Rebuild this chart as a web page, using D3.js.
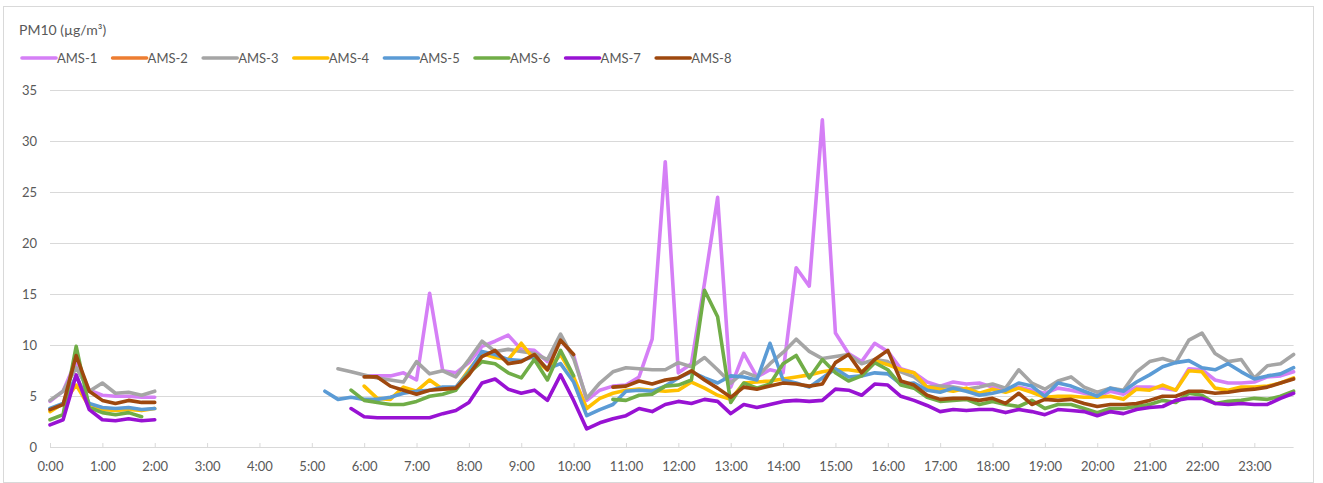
<!DOCTYPE html>
<html>
<head>
<meta charset="utf-8">
<script src="https://cdn.jsdelivr.net/npm/d3@7"></script>
<style>
  html, body { margin: 0; padding: 0; background: #fff; }
  svg { display: block; }
  text { font-family: Lato, "Open Sans", sans-serif; fill: #595959; }
</style>
</head>
<body>
<svg id="chart" width="1323" height="483"></svg>
<script>
const n = null;
const seriesNames = ["AMS-1","AMS-2","AMS-3","AMS-4","AMS-5","AMS-6","AMS-7","AMS-8"];
const seriesColors = ["#d57ff6","#ed7d31","#a5a5a5","#ffc000","#5b9bd5","#70ad47","#9812d3","#9e480e"];
const yTicks = [0,5,10,15,20,25,30,35];
const hourLabels = ["0:00","1:00","2:00","3:00","4:00","5:00","6:00","7:00","8:00","9:00","10:00","11:00",
  "12:00","13:00","14:00","15:00","16:00","17:00","18:00","19:00","20:00","21:00","22:00","23:00"];
const quarters = ["00","15","30","45"];
// 15-minute categories 0:00 ... 23:45
const times = hourLabels.flatMap(h => quarters.map(q => h.split(":")[0] + ":" + q));

const ams1 = [4.5,5.5,8.5,5.6,5.1,5.0,5.0,4.9, 4.9,n,n,n,n,n,n,n, n,n,n,n,n,n,n,n,
  7.0,7.0,7.0,7.3,6.6,15.1,7.5,7.3, 8.3,9.9,10.4,11.0,9.6,9.5,8.4,10.5, 9.0,4.6,5.6,6.0,6.1,6.9,10.6,28.0,
  7.3,8.2,16.1,24.5,5.9,9.2,6.9,7.6, 7.3,17.6,15.8,32.1,11.2,9.2,8.4,10.2, 9.4,7.7,7.3,6.4,6.0,6.4,6.2,6.3,
  5.9,5.5,5.9,5.6,5.3,5.8,5.6,5.3, 5.0,5.5,5.2,5.9,5.9,5.8,5.6,7.7, 7.6,6.6,6.3,6.3,6.4,6.9,7.0,7.4];
const ams2 = [n,n,n,n,n,n,n,n, n,n,n,n,n,n,n,n, n,n,n,n,n,n,n,n,
  n,n,n,n,n,n,n,n, n,n,n,n,n,n,n,n, n,n,n,n,n,n,n,n,
  n,n,n,n,n,n,n,n, n,n,n,n,n,n,n,n, n,n,n,n,n,n,n,n,
  n,n,n,n,n,n,n,n, n,n,n,n,n,n,n,n, n,n,n,n,n,n,n,n];
const ams3 = [4.6,5.5,7.8,5.5,6.3,5.3,5.4,5.1, 5.5,n,n,n,n,n,n,n, n,n,n,n,n,n,7.7,7.4,
  7.1,6.8,6.6,6.4,8.4,7.2,7.5,6.9, 8.6,10.4,9.4,9.6,9.4,9.2,8.6,11.1, 8.7,4.8,6.3,7.4,7.8,7.7,7.6,7.6,
  8.3,7.9,8.8,7.6,6.3,7.4,6.9,8.2, 9.3,10.6,9.4,8.7,8.9,9.1,8.2,8.6, 8.4,7.4,6.9,5.9,6.0,5.9,5.7,5.9,
  6.2,5.8,7.6,6.3,5.7,6.5,6.9,5.9, 5.4,5.8,5.6,7.4,8.4,8.7,8.3,10.5, 11.2,9.2,8.4,8.6,6.8,8.0,8.2,9.1];
const ams4 = [3.5,4.3,6.1,4.0,3.7,3.6,3.7,3.6, 3.8,n,n,n,n,n,n,n, n,n,n,n,n,n,n,n,
  6.0,4.8,4.7,5.9,5.5,6.6,5.7,5.8, 7.6,9.2,8.8,8.6,10.2,8.6,7.6,9.1, 6.9,3.8,4.8,5.3,5.6,5.7,5.6,5.5,
  5.6,6.4,5.8,5.1,4.7,6.3,6.4,6.5, 6.7,6.9,7.1,7.4,7.6,7.6,7.4,8.5, 8.1,7.6,7.3,5.9,5.7,5.5,5.8,5.3,
  5.7,5.4,5.8,5.4,4.9,5.0,5.0,4.9, 4.9,5.0,4.7,5.7,5.6,6.1,5.6,7.5, 7.4,5.8,5.6,5.9,5.9,6.0,6.3,6.8];
const ams5 = [3.8,4.3,7.0,4.3,3.9,3.8,3.9,3.7, 3.8,n,n,n,n,n,n,n, n,n,n,n,n,5.5,4.7,4.9,
  4.7,4.7,4.9,5.3,5.5,5.6,5.9,5.9, 7.4,9.4,9.1,8.6,8.5,8.9,7.7,8.2, 6.4,3.1,3.7,4.2,5.5,5.6,5.5,6.0,
  6.8,7.4,6.8,6.3,7.0,6.9,6.6,10.2, 6.6,6.3,5.9,6.8,7.7,6.9,7.0,7.3, 7.2,6.2,6.3,5.6,5.4,5.8,5.5,5.1,
  5.3,5.6,6.3,6.0,5.0,6.3,6.0,5.5, 5.0,5.8,5.5,6.4,7.1,7.9,8.3,8.5, 7.8,7.6,8.2,7.4,6.7,7.0,7.2,7.8];
const ams6 = [2.7,3.2,9.9,3.9,3.4,3.2,3.4,3.0, n,n,n,n,n,n,n,n, n,n,n,n,n,n,n,5.6,
  4.6,4.4,4.2,4.2,4.5,5.0,5.2,5.6, 7.3,8.4,8.2,7.3,6.8,8.6,6.6,9.5, 7.0,n,n,4.7,4.6,5.1,5.2,6.0,
  6.1,6.6,15.4,12.8,4.4,6.3,5.8,6.2, 8.2,9.0,6.8,8.6,7.3,6.5,7.0,8.3, 7.6,6.1,5.8,4.9,4.5,4.6,4.7,4.2,
  4.5,4.2,4.0,4.6,3.8,4.2,4.2,3.8, 3.4,3.8,3.8,4.0,4.2,4.6,4.4,5.3, 5.1,4.3,4.5,4.6,4.8,4.7,5.0,5.5];
const ams7 = [2.2,2.7,7.1,3.7,2.7,2.6,2.8,2.6, 2.7,n,n,n,n,n,n,n, n,n,n,n,n,n,n,3.8,
  3.0,2.9,2.9,2.9,2.9,2.9,3.3,3.6, 4.4,6.3,6.7,5.7,5.3,5.6,4.6,7.1, 4.6,1.8,2.4,2.8,3.1,3.8,3.5,4.2,
  4.5,4.3,4.7,4.5,3.3,4.2,3.9,4.2, 4.5,4.6,4.5,4.6,5.7,5.6,5.1,6.2, 6.1,5.0,4.6,4.1,3.5,3.7,3.6,3.7,
  3.7,3.4,3.7,3.5,3.2,3.7,3.6,3.5, 3.1,3.5,3.3,3.7,3.9,4.0,4.6,4.8, 4.8,4.3,4.2,4.3,4.2,4.2,4.8,5.3];
const ams8 = [3.7,4.2,9.0,5.5,4.6,4.3,4.6,4.4, 4.4,n,n,n,n,n,n,n, n,n,n,n,n,n,n,n,
  6.9,6.9,6.0,5.6,5.2,5.6,5.7,5.8, 7.1,8.9,9.5,8.2,8.4,9.1,7.6,10.5, 9.1,n,n,5.9,6.0,6.5,6.2,6.6,
  6.8,7.5,6.6,5.8,4.9,5.9,5.7,6.0, 6.3,6.2,6.0,6.2,8.3,9.1,7.3,8.6, 9.5,6.5,6.1,5.1,4.7,4.8,4.8,4.6,
  4.8,4.3,5.3,4.2,4.7,4.6,4.7,4.3, 4.0,4.2,4.2,4.3,4.6,5.0,5.0,5.5, 5.5,5.3,5.4,5.6,5.7,5.9,6.3,6.7];
const seriesValues = [ams1, ams2, ams3, ams4, ams5, ams6, ams7, ams8];

const svg = d3.select("#chart");

// chart border
svg.append("rect").attr("x", 3.5).attr("y", 6.5).attr("width", 1310).attr("height", 476)
  .attr("fill", "none").attr("stroke", "#d9d9d9").attr("stroke-width", 1);

const x = d3.scalePoint().domain(times).range([50, 1293.6]);
const y = d3.scaleLinear().domain([0, 35]).range([447.3, 90.3]);

// gridlines
svg.append("g").selectAll("line").data(yTicks.filter(t => t > 0)).join("line")
  .attr("x1", 50).attr("x2", 1293.6)
  .attr("y1", d => Math.round(y(d)) + 0.5).attr("y2", d => Math.round(y(d)) + 0.5)
  .attr("stroke", "#d9d9d9").attr("stroke-width", 1);

// y axis labels
const yAxis = d3.axisLeft(y).tickValues(yTicks).tickSize(0).tickPadding(0);
const gy = svg.append("g").attr("transform", "translate(37,0)").call(yAxis);
gy.select(".domain").remove();
gy.selectAll("text").attr("font-size", 13).style("font-family", "Lato, sans-serif").attr("fill", "#595959");

// x axis
const xAxis = d3.axisBottom(x).tickValues(hourLabels).tickSize(0).tickPadding(0);
const gx = svg.append("g").attr("transform", "translate(0," + (Math.round(y(0)) + 0.5) + ")").call(xAxis);
gx.select(".domain").attr("stroke", "#d9d9d9").attr("d", "M50,0H1293.6");
gx.selectAll(".tick line").attr("y1", -4.5).attr("y2", 0).attr("stroke", "#d9d9d9");
gx.selectAll(".tick text").attr("y", 23).attr("dy", "0").attr("font-size", 13)
  .style("font-family", "Lato, sans-serif").attr("fill", "#595959");

// lines
const line = d3.line()
  .defined(d => d.v != null)
  .x(d => x(d.t))
  .y(d => y(d.v));

seriesNames.forEach((name, k) => {
  const data = times.map((t, i) => ({ t, v: seriesValues[k][i] }));
  svg.append("path").datum(data)
    .attr("d", line)
    .attr("fill", "none")
    .attr("stroke", seriesColors[k])
    .attr("stroke-width", 3.6)
    .attr("stroke-linejoin", "round")
    .attr("stroke-linecap", "round");
});

// title
svg.append("text").attr("x", 19).attr("y", 35).attr("font-size", 14).text("PM10 (µg/m³)");

// legend
const lg = svg.append("g").selectAll("g").data(seriesNames).join("g")
  .attr("transform", (d, k) => "translate(" + (22 + k * 90.6) + ",58)");
lg.append("line").attr("x1", 0).attr("x2", 34).attr("y1", 0).attr("y2", 0)
  .attr("stroke", (d, k) => seriesColors[k]).attr("stroke-width", 3.6).attr("stroke-linecap", "round");
lg.append("text").attr("x", 35).attr("y", 0).attr("dy", "0.35em").attr("font-size", 13).text(d => d);
</script>
</body>
</html>
